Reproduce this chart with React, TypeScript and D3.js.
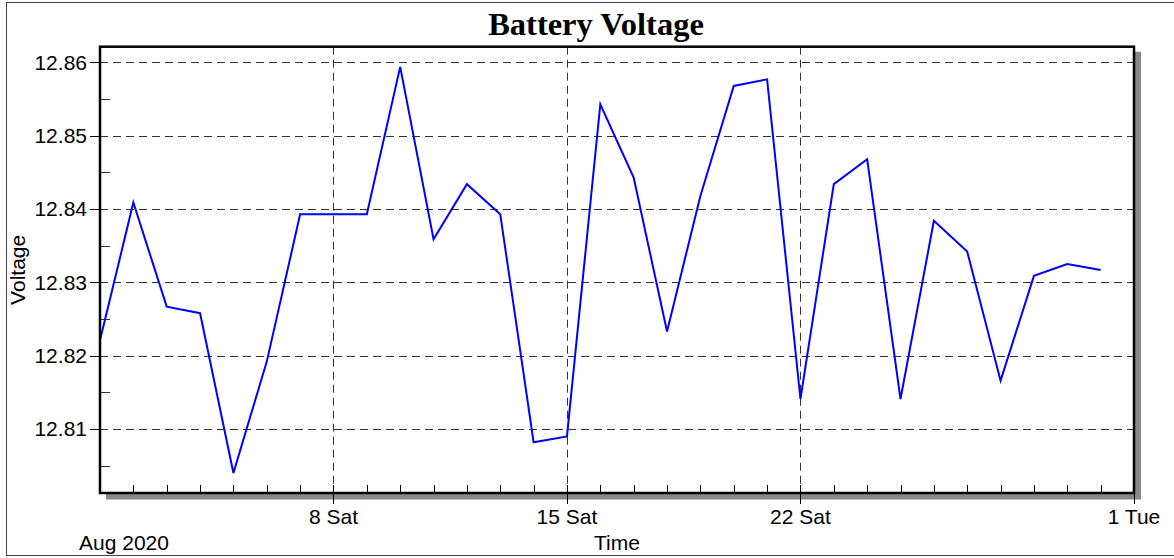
import { useMemo } from "react";
import * as d3 from "d3";

// Daily battery voltage readings for August 2020.
const dates = [
  "2020-08-01", "2020-08-02", "2020-08-03", "2020-08-04", "2020-08-05",
  "2020-08-06", "2020-08-07", "2020-08-08", "2020-08-09", "2020-08-10",
  "2020-08-11", "2020-08-12", "2020-08-13", "2020-08-14", "2020-08-15",
  "2020-08-16", "2020-08-17", "2020-08-18", "2020-08-19", "2020-08-20",
  "2020-08-21", "2020-08-22", "2020-08-23", "2020-08-24", "2020-08-25",
  "2020-08-26", "2020-08-27", "2020-08-28", "2020-08-29", "2020-08-30",
  "2020-08-31",
];
const voltage = [
  12.8221, 12.8409, 12.8267, 12.8258, 12.804, 12.8192, 12.8393, 12.8393,
  12.8393, 12.8594, 12.8359, 12.8434, 12.8393, 12.8082, 12.809, 12.8543,
  12.8443, 12.8233, 12.8418, 12.8568, 12.8577, 12.8141, 12.8434, 12.8468,
  12.8141, 12.8384, 12.8342, 12.8166, 12.8309, 12.8325, 12.8317,
];
const majorDates = ["2020-08-08", "2020-08-15", "2020-08-22", "2020-09-01"];
const yTicks = [12.81, 12.82, 12.83, 12.84, 12.85, 12.86];
const yMinorTicks = [12.805, 12.815, 12.825, 12.835, 12.845, 12.855];
const xDomain = ["2020-08-01", "2020-09-01"];
const yDomain = [12.80128, 12.86215];

const W = 1174;
const H = 558;
const M = { left: 100, right: 1134, top: 46.7, bottom: 493 };
const SANS = "Arial, 'Liberation Sans', sans-serif";
const FS = 21;

const parse = (s: string) => new Date(s + "T00:00:00Z");

export default function App() {
  const x = useMemo(
    () => d3.scaleUtc().domain(xDomain.map(parse)).range([M.left, M.right]),
    []
  );
  const y = useMemo(
    () => d3.scaleLinear().domain(yDomain).range([M.bottom, M.top]),
    []
  );
  const points = dates.map((d, i) => ({ date: parse(d), v: voltage[i] }));
  const line = d3
    .line<{ date: Date; v: number }>()
    .x((d) => x(d.date))
    .y((d) => y(d.v));
  const days = d3.utcDay.range(parse(xDomain[0]), parse(xDomain[1]));
  const majors = majorDates.map(parse);
  const fmtDay = d3.utcFormat("%-d %a");
  const fmtY = d3.format(".2f");
  const pw = M.right - M.left;
  const ph = M.bottom - M.top;
  const px = (v: number) => Math.round(v) + 0.5;

  return (
    <svg
      width={W}
      height={H}
      style={{ position: "absolute", left: 0, top: 0, background: "#fff" }}
    >
      {/* outer frame */}
      <rect x={6.5} y={2.5} width={1180} height={553} fill="none" stroke="#444" />

      <text
        x={596}
        y={35}
        textAnchor="middle"
        fontFamily="'Times New Roman', 'Liberation Serif', serif"
        fontWeight="bold"
        fontSize={32.5}
      >
        Battery Voltage
      </text>

      {/* drop shadow + plot background */}
      <rect x={M.left + 6} y={M.top + 5} width={pw + 1} height={ph + 1.5} fill="#888" />
      <rect x={M.left} y={M.top} width={pw} height={ph} fill="#fff" />

      {/* gridlines */}
      {yTicks.map((t) => (
        <line
          key={"gy" + t}
          x1={M.left}
          x2={M.right}
          y1={px(y(t))}
          y2={px(y(t))}
          stroke="#333"
          strokeDasharray="8,5"
        />
      ))}
      {majors.slice(0, 3).map((d) => (
        <line
          key={"gx" + d.getTime()}
          x1={px(x(d))}
          x2={px(x(d))}
          y1={M.top}
          y2={M.bottom}
          stroke="#333"
          strokeDasharray="8,5"
        />
      ))}

      {/* y ticks */}
      {yTicks.map((t) => (
        <g key={"yt" + t}>
          <line x1={M.left - 10} x2={M.left} y1={px(y(t))} y2={px(y(t))} stroke="#000" />
          <text
            x={M.left - 13}
            y={y(t)}
            dy="0.35em"
            textAnchor="end"
            fontFamily={SANS}
            fontSize={FS}
          >
            {fmtY(t)}
          </text>
        </g>
      ))}
      {yMinorTicks.map((t) => (
        <line
          key={"ym" + t}
          x1={M.left}
          x2={M.left + 10}
          y1={px(y(t))}
          y2={px(y(t))}
          stroke="#333"
        />
      ))}

      {/* x ticks */}
      {days.map((d) => (
        <line
          key={"xm" + d.getTime()}
          x1={px(x(d))}
          x2={px(x(d))}
          y1={M.bottom - 8}
          y2={M.bottom}
          stroke="#000"
        />
      ))}
      {majors.map((d) => (
        <g key={"xt" + d.getTime()}>
          <line x1={px(x(d))} x2={px(x(d))} y1={M.bottom} y2={M.bottom + 11} stroke="#000" />
          <text x={x(d)} y={524} textAnchor="middle" fontFamily={SANS} fontSize={FS}>
            {fmtDay(d)}
          </text>
        </g>
      ))}

      {/* data */}
      <path d={line(points) ?? ""} fill="none" stroke="#0000ff" strokeWidth={2} />

      {/* plot frame */}
      <rect x={M.left} y={M.top} width={pw} height={ph} fill="none" stroke="#000" strokeWidth={2.5} />

      {/* axis titles */}
      <text x={79} y={550} fontFamily={SANS} fontSize={FS}>
        Aug 2020
      </text>
      <text x={617} y={550} textAnchor="middle" fontFamily={SANS} fontSize={FS}>
        Time
      </text>
      <text
        transform={`translate(25,${(M.top + M.bottom) / 2}) rotate(-90)`}
        textAnchor="middle"
        fontFamily={SANS}
        fontSize={FS}
      >
        Voltage
      </text>
    </svg>
  );
}
